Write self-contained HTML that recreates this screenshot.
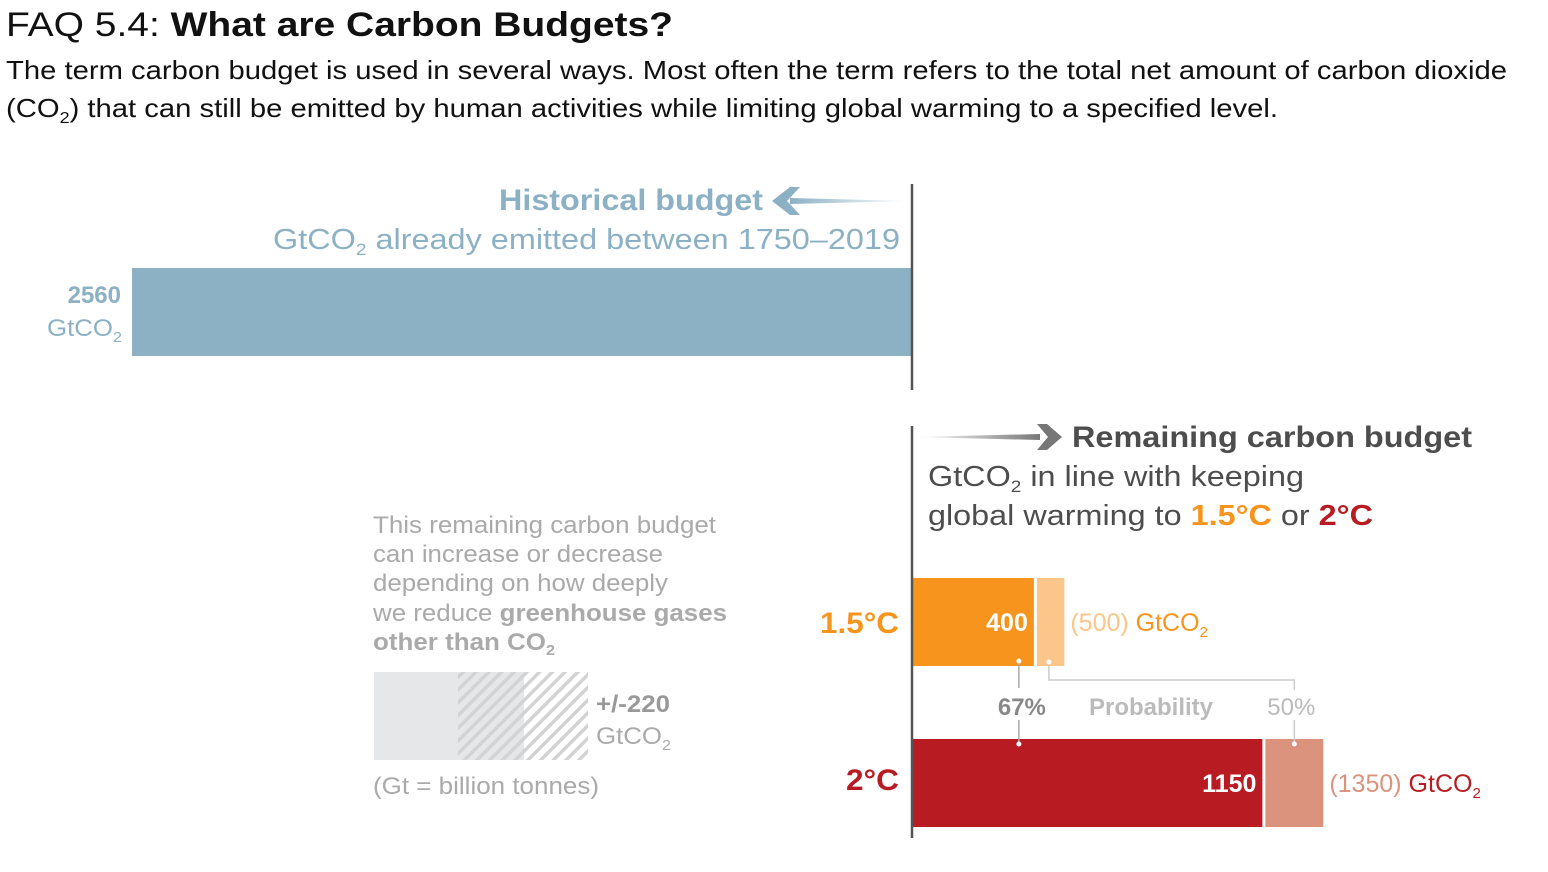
<!DOCTYPE html>
<html><head><meta charset="utf-8"><style>
body{margin:0;background:#fff;width:1548px;height:867px;overflow:hidden;font-family:"Liberation Sans",Arial,sans-serif}
svg text{font-family:"Liberation Sans",Arial,sans-serif}
</style></head><body>
<svg width="1548" height="867" viewBox="0 0 1548 867">
<defs>
<linearGradient id="gb" x1="1" x2="0" y1="0" y2="0"><stop offset="0" stop-color="#8cb1c5" stop-opacity="0"/><stop offset="1" stop-color="#8cb1c5"/></linearGradient>
<linearGradient id="gg" x1="0" x2="1" y1="0" y2="0"><stop offset="0" stop-color="#777" stop-opacity="0"/><stop offset="1" stop-color="#777"/></linearGradient>
<pattern id="hatch" width="9" height="9" patternUnits="userSpaceOnUse" patternTransform="rotate(45)"><rect width="9" height="9" fill="none"/><rect x="0" width="3.5" height="9" fill="#d3d3d3"/></pattern>
</defs>
<text x="6" y="36" font-size="34" fill="#111" textLength="667" lengthAdjust="spacingAndGlyphs">FAQ 5.4: <tspan font-weight="bold">What are Carbon Budgets?</tspan></text>
<text x="6" y="79" font-size="26" fill="#111" textLength="1501" lengthAdjust="spacingAndGlyphs">The term carbon budget is used in several ways. Most often the term refers to the total net amount of carbon dioxide</text>
<text x="6" y="117" font-size="26" fill="#111" textLength="1272" lengthAdjust="spacingAndGlyphs">(CO<tspan font-size="16" dy="6">2</tspan><tspan dy="-6">) that can still be emitted by human activities while limiting global warming to a specified level.</tspan></text>

<g id="hist">
<text x="499" y="210" font-size="30" font-weight="bold" fill="#8cb1c5" textLength="264" lengthAdjust="spacingAndGlyphs">Historical budget</text>
<path d="M910 201 L790 198 L790 204 Z" fill="url(#gb)"/>
<path d="M772 201 L790 187 L800 187 L787 201 L800 215 L790 215 Z" fill="#8cb1c5"/>
<text x="273" y="249" font-size="29" fill="#8cb1c5" textLength="627" lengthAdjust="spacingAndGlyphs">GtCO<tspan font-size="17" dy="6">2</tspan><tspan dy="-6"> already emitted between 1750–2019</tspan></text>
<text x="121" y="303" font-size="24" font-weight="bold" fill="#8cb1c5" text-anchor="end">2560</text>
<text x="47" y="336" font-size="24" fill="#8cb1c5" textLength="75" lengthAdjust="spacingAndGlyphs">GtCO<tspan font-size="15" dy="6">2</tspan></text>
</g>
<g id="bars"></g>
<line x1="912" y1="184" x2="912" y2="390" stroke="#555" stroke-width="2.5"/>
<line x1="912" y1="426" x2="912" y2="838" stroke="#555" stroke-width="2.5"/>

<path d="M916 437 L1040 434 L1040 440 Z" fill="url(#gg)"/>
<path d="M1062 437 L1047 424 L1037 424 L1048 437 L1037 450 L1047 450 Z" fill="#777"/>
<text x="1072" y="447" font-size="30" font-weight="bold" fill="#4d4d4d" textLength="400" lengthAdjust="spacingAndGlyphs">Remaining carbon budget</text>
<text x="928" y="486" font-size="29" fill="#4d4d4d" textLength="376" lengthAdjust="spacingAndGlyphs">GtCO<tspan font-size="17" dy="6">2</tspan><tspan dy="-6"> in line with keeping</tspan></text>
<text x="928" y="525" font-size="29" fill="#4d4d4d" textLength="445" lengthAdjust="spacingAndGlyphs">global warming to <tspan fill="#f7941d" font-weight="bold">1.5°C</tspan> or <tspan fill="#b81c22" font-weight="bold">2°C</tspan></text>

<text x="820" y="633" font-size="30" font-weight="bold" fill="#f7941d" textLength="79" lengthAdjust="spacingAndGlyphs">1.5°C</text>
<text x="846" y="790" font-size="30" font-weight="bold" fill="#b81c22" textLength="53" lengthAdjust="spacingAndGlyphs">2°C</text>

<g fill="#aaa" font-size="24">
<text x="373" y="533" textLength="343" lengthAdjust="spacingAndGlyphs">This remaining carbon budget</text>
<text x="373" y="562" textLength="290" lengthAdjust="spacingAndGlyphs">can increase or decrease</text>
<text x="373" y="591" textLength="295" lengthAdjust="spacingAndGlyphs">depending on how deeply</text>
<text x="373" y="621" textLength="354" lengthAdjust="spacingAndGlyphs">we reduce <tspan font-weight="bold">greenhouse gases</tspan></text>
<text x="373" y="650" font-weight="bold" textLength="182" lengthAdjust="spacingAndGlyphs">other than CO<tspan font-size="15" dy="5">2</tspan></text>
</g>
<rect x="374" y="672" width="84" height="88" fill="#e6e7e8"/>
<rect x="458" y="672" width="66" height="88" fill="#e6e7e8"/>
<rect x="458" y="672" width="130" height="88" fill="url(#hatch)"/>
<text x="596" y="712" font-size="24" font-weight="bold" fill="#999" textLength="74" lengthAdjust="spacingAndGlyphs">+/-220</text>
<text x="596" y="744" font-size="24" fill="#aaa" textLength="75" lengthAdjust="spacingAndGlyphs">GtCO<tspan font-size="15" dy="6">2</tspan></text>
<text x="373" y="794" font-size="24" fill="#aaa" textLength="226" lengthAdjust="spacingAndGlyphs">(Gt = billion tonnes)</text>
</svg>
<script>
const categories = ["1.5°C", "2°C"];
const likely67 = [400, 1150];
const likely50 = [500, 1350];
const historical = [2560];
const NS = "http://www.w3.org/2000/svg";
const g = document.getElementById("bars");
const x0 = 912, pxPer = 780 / 2560;
const sx = v => v * pxPer;
function el(tag, attrs, txt){const e=document.createElementNS(NS,tag);for(const k in attrs)e.setAttribute(k,attrs[k]);if(txt!=null)e.textContent=txt;g.appendChild(e);return e;}
const hb = el("rect",{x:x0-sx(historical[0]),y:268,width:sx(historical[0]),height:88,fill:"#8cb1c5"});


const rows = [{y:578,h:88,dark:"#f7941d",light:"#fcc58a",lblc:"#fcc58a",unitc:"#f7941d"},{y:739,h:88,dark:"#b81c22",light:"#dc937e",lblc:"#dc937e",unitc:"#b81c22"}];
categories.forEach((c,i)=>{
  const r=rows[i];
  const w1=sx(likely67[i]), w2=sx(likely50[i]);
  const b1=el("rect",{x:x0,y:r.y,width:w1,height:r.h,fill:r.dark});
  
  
  const b2=el("rect",{x:x0+w1+3,y:r.y,width:w2-w1-3,height:r.h,fill:r.light});
  
  
  const t1=el("text",{x:x0+w1-6,y:r.y+53,"font-size":25,"font-weight":"bold",fill:"#fff","text-anchor":"end"},String(likely67[i]));
  
  
  const t2=el("text",{x:x0+w2+6,y:r.y+53,"font-size":25,fill:r.lblc},"("+likely50[i]+") ");
  
  
  const ts=document.createElementNS(NS,"tspan");ts.setAttribute("fill",r.unitc);ts.textContent="GtCO";t2.appendChild(ts);
  const sub=document.createElementNS(NS,"tspan");sub.setAttribute("fill",r.unitc);sub.setAttribute("font-size","15");sub.setAttribute("dy","6");sub.textContent="2";t2.appendChild(sub);
});
const px67 = x0 + sx(likely67[0]) - 15;
const pxA = x0 + sx(likely67[0]) + 15;
const pxB = x0 + sx(likely50[1]) - 29;
const conn = [
 ["M"+px67+" 662 V688","#aaa"],["M"+px67+" 720 V745","#aaa"],
 ["M"+pxA+" 662 V680 H"+pxB+" V690","#ccc"],["M"+pxB+" 720 V745","#ccc"]];
conn.forEach((p,i)=>{const e=el("path",{d:p[0],stroke:p[1],"stroke-width":1.5,fill:"none"});
  
  });
[[px67,661],[px67,744],[pxA,662],[pxB,744]].forEach((d,i)=>{const e=el("circle",{cx:d[0],cy:d[1],r:2.5,fill:"#fff"});
  
  });
const p67=el("text",{x:px67+3,y:715,"font-size":24,"font-weight":"bold",fill:"#888","text-anchor":"middle"},"67%");


const pl=el("text",{x:1151,y:715,"font-size":24,"font-weight":"bold",fill:"#bbb","text-anchor":"middle"},"Probability");


const p50=el("text",{x:pxB-3,y:715,"font-size":24,fill:"#bbb","text-anchor":"middle"},"50%");


</script>
</body></html>
